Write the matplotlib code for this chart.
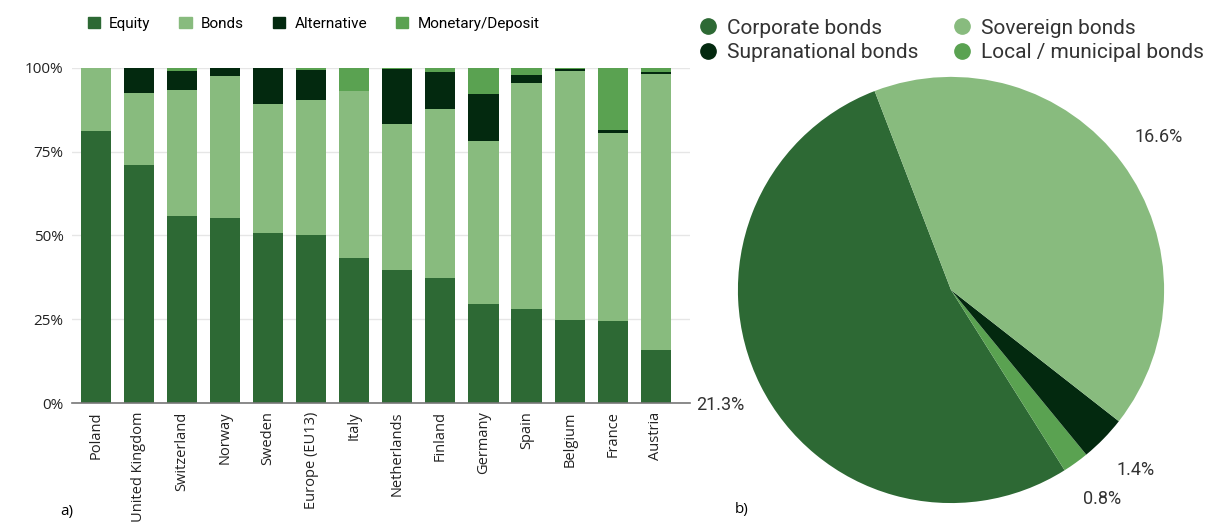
import matplotlib.pyplot as plt
from matplotlib.lines import Line2D
from matplotlib.patches import Patch
import numpy as np

plt.rcParams['font.family'] = ['Roboto', 'DejaVu Sans']

# a) asset allocation by country (%)
countries = ['Poland', 'United Kingdom', 'Switzerland', 'Norway', 'Sweden', 'Europe (EU13)',
             'Italy', 'Netherlands', 'Finland', 'Germany', 'Spain', 'Belgium', 'France', 'Austria']
equity = [81.0, 71.0, 55.9, 55.1, 50.8, 50.0, 43.4, 39.8, 37.4, 29.6, 28.1, 24.9, 24.5, 15.7]
bonds = [19.0, 21.4, 37.5, 42.4, 38.5, 40.4, 49.8, 43.5, 50.2, 48.6, 67.4, 74.0, 56.0, 82.3]
alternative = [0.0, 7.6, 5.5, 2.5, 10.7, 8.9, 0.0, 16.2, 11.2, 14.1, 2.3, 0.8, 1.0, 0.7]
monetary = [0.0, 0.0, 1.1, 0.0, 0.0, 0.7, 6.8, 0.5, 1.2, 7.7, 2.2, 0.3, 18.5, 1.3]
bar_series = ['Equity', 'Bonds', 'Alternative', 'Monetary/Deposit']

# b) bond holdings by issuer type (% of total)
bond_types = ['Corporate bonds', 'Local / municipal bonds', 'Supranational bonds', 'Sovereign bonds']
bond_shares = [21.3, 0.8, 1.4, 16.6]

c_equity = '#2d6934'
c_bonds = '#88bb7e'
c_alt = '#03290f'
c_mon = '#5aa251'

fig = plt.figure(figsize=(12.1, 5.29), dpi=100)

# ---- stacked bars ----
ax = fig.add_axes([0.0595, 0.238, 0.511, 0.634])
x = np.arange(len(countries))
bottom = np.zeros(len(countries))
for vals, col in zip([equity, bonds, alternative, monetary], [c_equity, c_bonds, c_alt, c_mon]):
    ax.bar(x, np.array(vals) / 100, 0.7, bottom=bottom, color=col, linewidth=0)
    bottom += np.array(vals) / 100

ax.set_xlim(-0.55, 13.8)
ax.set_ylim(0, 1.0)
ax.set_yticks([0, 0.25, 0.5, 0.75, 1.0])
ax.set_yticklabels(['0%', '25%', '50%', '75%', '100%'], fontsize=11, color='#222222',
                   family=['Open Sans', 'DejaVu Sans'])
ax.set_xticks(x)
ax.set_xticklabels(countries, rotation=90, fontsize=10.5, color='#222222',
                   family=['Open Sans', 'DejaVu Sans'])
ax.tick_params(length=0, pad=6)
ax.yaxis.grid(True, color='#e6e6e6', linewidth=1)
ax.set_axisbelow(True)
for s in ['top', 'right', 'left']:
    ax.spines[s].set_visible(False)
ax.spines['bottom'].set_color('#777777')
ax.spines['bottom'].set_linewidth(1.2)

bar_handles = [Patch(color=c) for c in [c_equity, c_bonds, c_alt, c_mon]]
fig.legend(bar_handles, bar_series, loc='center left', bbox_to_anchor=(0.061, 0.955),
           ncol=4, frameon=False, fontsize=11, handlelength=0.8, handleheight=0.8,
           handletextpad=0.6, columnspacing=1.9)

fig.text(0.05, 0.027, 'a)', fontsize=11, family=['Open Sans', 'DejaVu Sans'])

# ---- pie ----
pax = fig.add_axes([0.557, -0.0718, 0.4579, 1.0473])
pie_colors = [c_equity, c_mon, c_alt, c_bonds]
pie_labels = [f'{v:.1f}%' for v in bond_shares]
pax.pie(bond_shares, colors=pie_colors, startangle=111, counterclock=True,
        labels=pie_labels, labeldistance=1.21,
        textprops=dict(fontsize=13, color='#333333', ha='center', va='center'),
        wedgeprops=dict(linewidth=0))
pax.set_xlim(-1.3, 1.3)
pax.set_ylim(-1.3, 1.3)
pax.axis('off')

# legend filled column-wise, so order gives rows Corporate/Sovereign, Supranational/Local
pie_handles = [Line2D([], [], marker='o', linestyle='', markersize=11, color=c)
               for c in [c_equity, c_alt, c_bonds, c_mon]]
fig.legend(pie_handles, ['Corporate bonds', 'Supranational bonds', 'Sovereign bonds', 'Local / municipal bonds'],
           loc='center left', bbox_to_anchor=(0.563, 0.924), ncol=2, frameon=False,
           fontsize=15, handlelength=0.8, handletextpad=0.5, columnspacing=1.7,
           labelspacing=0.25, labelcolor='#333333')

fig.text(0.607, 0.03, 'b)', fontsize=11, family=['Open Sans', 'DejaVu Sans'])

fig.savefig('out.png', dpi=100)
